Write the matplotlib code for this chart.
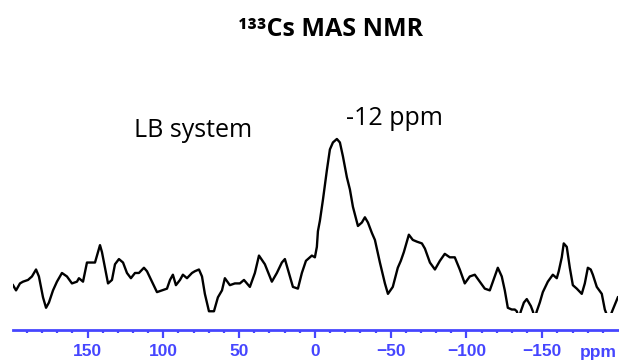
import numpy as np
import matplotlib
matplotlib.use('Agg')
import matplotlib.pyplot as plt

# 133Cs MAS NMR spectrum (ppm, normalised intensity)
ppm = [199.2, 197.2, 194.6, 192.6, 189.3, 186.7, 184.0, 182.1, 179.4, 177.4,
       175.5, 172.8, 170.2, 166.9, 163.6, 160.3, 157.0, 155.7, 153.0, 150.4,
       147.8, 145.1, 141.8, 140.5, 138.5, 136.5, 133.9, 131.9, 129.3, 126.6,
       124.0, 121.4, 118.7, 116.1, 112.8, 110.8, 107.5, 104.2, 100.9, 97.6,
       95.6, 93.7, 91.7, 89.0, 87.1, 84.4, 81.1, 79.2, 76.5, 74.5,
       72.6, 69.9, 66.6, 64.0, 61.3, 59.4, 56.1, 52.8, 49.5, 46.8,
       42.9, 39.6, 36.9, 33.0, 28.4, 25.1, 21.8, 19.8, 17.8, 14.5,
       11.2, 8.6, 5.9, 2.0, 0.0, -1.3, -2.0, -3.3, -5.3, -7.9,
       -9.9, -11.9, -14.5, -16.5, -18.5, -21.1, -23.1, -25.1, -28.4, -31.0,
       -33.0, -35.0, -37.6, -39.6, -42.9, -46.2, -48.2, -51.4, -54.7, -56.7,
       -58.7, -60.7, -62.0, -64.6, -67.3, -70.6, -72.6, -75.9, -79.2, -82.5,
       -85.7, -89.0, -92.3, -95.6, -98.9, -102.2, -105.5, -108.8, -112.1, -115.4,
       -118.7, -120.7, -123.3, -125.3, -127.3, -129.9, -131.9, -133.2, -134.6, -135.9,
       -137.9, -139.8, -142.5, -143.8, -145.1, -146.4, -148.4, -150.4, -153.7, -157.0,
       -159.6, -160.9, -162.9, -164.2, -166.2, -168.2, -170.2, -172.8, -176.1, -178.1,
       -180.1, -182.0, -183.4, -186.0, -189.3, -191.3, -193.9, -196.6, -199.9]
intensity = [0.16, 0.13, 0.17, 0.18, 0.19, 0.21, 0.25, 0.21, 0.09, 0.03,
             0.06, 0.13, 0.18, 0.23, 0.21, 0.17, 0.18, 0.20, 0.18, 0.29,
             0.29, 0.29, 0.39, 0.35, 0.26, 0.17, 0.19, 0.28, 0.31, 0.29,
             0.23, 0.20, 0.23, 0.23, 0.26, 0.24, 0.18, 0.12, 0.13, 0.14,
             0.19, 0.22, 0.16, 0.19, 0.22, 0.20, 0.23, 0.24, 0.25, 0.21,
             0.11, 0.01, 0.01, 0.09, 0.13, 0.20, 0.16, 0.17, 0.17, 0.19,
             0.15, 0.23, 0.33, 0.28, 0.18, 0.23, 0.29, 0.31, 0.25, 0.15,
             0.14, 0.23, 0.30, 0.33, 0.32, 0.38, 0.47, 0.53, 0.65, 0.82,
             0.94, 0.98, 1.00, 0.98, 0.90, 0.78, 0.71, 0.61, 0.50, 0.52,
             0.55, 0.52, 0.46, 0.42, 0.29, 0.17, 0.11, 0.15, 0.26, 0.30,
             0.35, 0.41, 0.45, 0.42, 0.41, 0.40, 0.37, 0.29, 0.25, 0.30,
             0.34, 0.32, 0.32, 0.25, 0.17, 0.21, 0.22, 0.18, 0.14, 0.13,
             0.21, 0.26, 0.21, 0.13, 0.03, 0.02, 0.02, 0.01, -0.03, 0.01,
             0.06, 0.08, 0.04, 0.01, -0.03, 0.01, 0.06, 0.12, 0.18, 0.22,
             0.20, 0.24, 0.32, 0.40, 0.38, 0.26, 0.16, 0.14, 0.11, 0.17,
             0.26, 0.25, 0.22, 0.15, 0.11, 0.02, -0.04, 0.02, 0.09]

major_ticks = [150, 100, 50, 0, -50, -100, -150]
minor_ticks = list(range(190, -200, -10))

blue = '#4646ff'

fig = plt.figure(figsize=(6.19, 3.62), dpi=100)
ax = fig.add_axes([13/619, 49/362, 605/619, 213/362])

ax.plot(ppm, intensity, color='black', lw=1.7)
ax.set_xlim(199.2, -200)
ax.set_ylim(0, 1.224)

for s in ['top', 'left', 'right']:
    ax.spines[s].set_visible(False)
ax.spines['bottom'].set_position(('outward', 12.2))
ax.spines['bottom'].set_color(blue)
ax.spines['bottom'].set_linewidth(2)
ax.set_yticks([])
ax.set_xticks(major_ticks)
ax.set_xticks(minor_ticks, minor=True)
ax.tick_params(axis='x', which='major', length=6, width=1.6, color=blue, pad=4,
               labelcolor=blue, labelsize=12.5)
ax.tick_params(axis='x', which='minor', length=2.5, width=1.6, color=blue)
for lab in ax.get_xticklabels():
    lab.set_fontfamily('Liberation Sans')
    lab.set_fontweight('bold')

fig.text(598/619, 1 - 353/362, 'ppm', color=blue, fontsize=12.5, fontweight='bold',
         family='Liberation Sans', ha='center', va='center')

fig.text(331/619, 1 - 29/362, '¹³³Cs MAS NMR', fontsize=18, fontweight='bold',
         family='Open Sans', ha='center', va='center')
fig.text(346/619, 1 - 125/362, '-12 ppm', fontsize=18, family='Open Sans',
         ha='left', va='baseline')
fig.text(134/619, 1 - 137/362, 'LB system', fontsize=18, family='Open Sans',
         ha='left', va='baseline')

fig.savefig('out.png', dpi=100)
